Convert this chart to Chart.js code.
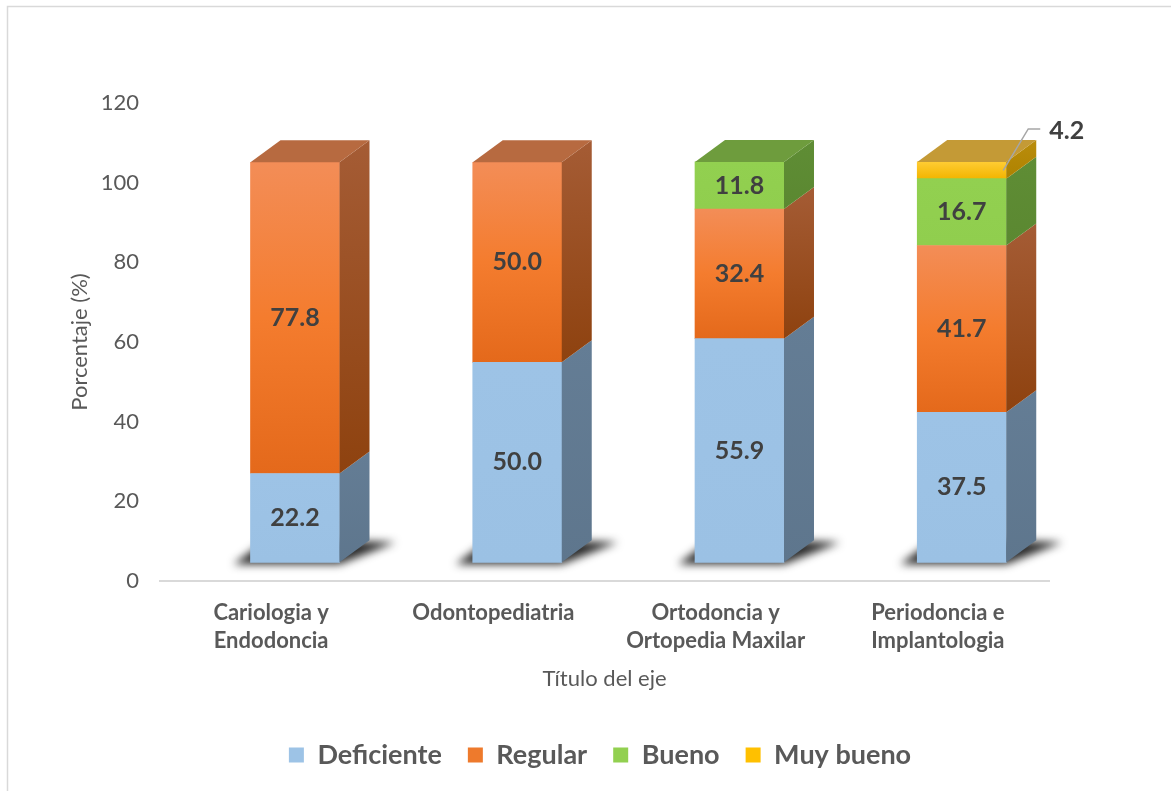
<!DOCTYPE html>
<html>
<head>
<meta charset="utf-8">
<script src="https://cdn.jsdelivr.net/npm/chart.js@4.4.0/dist/chart.umd.min.js"></script>
<style>
html,body{margin:0;padding:0;background:#fff;}
#wrap{width:1171px;height:791px;position:relative;}
</style>
</head>
<body>
<div id="wrap"><canvas id="c" width="1171" height="791"></canvas></div>
<script>
// ---- data ----
const categories = [['Cariologia y','Endodoncia'], 'Odontopediatria', ['Ortodoncia y','Ortopedia Maxilar'], ['Periodoncia e','Implantologia']];
const seriesNames = ['Deficiente', 'Regular', 'Bueno', 'Muy bueno'];
const deficiente = [22.2, 50.0, 55.9, 37.5];
const regular    = [77.8, 50.0, 32.4, 41.7];
const bueno      = [0, 0, 11.8, 16.7];
const muyBueno   = [0, 0, 0, 4.2];
const yTicks = [0, 20, 40, 60, 80, 100, 120];
const xTitle = 'Título del eje';
const yTitle = 'Porcentaje (%)';

const seriesData = [deficiente, regular, bueno, muyBueno];

// ---- styles ----
const FONT = "Lato, 'Open Sans', sans-serif";
const styles = [
  {front:['#9DC3E6','#9BC1E4'], side:['#647D95','#5E768D'], top:'#7F9DB8', legend:'#9DC3E6'},
  {front:['#F38D57','#F47C2E','#E4691B'], side:['#A55C35','#8E420F'], top:'#B76A40', legend:'#EE7A2C'},
  {front:['#92D050','#90CE4E'], side:['#5F8D35','#5B8831'], top:'#6E9C3D', legend:'#92D050'},
  {front:['#FFCC33','#F3B500'], side:['#BA8D0C','#AE8200'], top:'#C49A36', legend:'#FFC000'}
];
const DX = 30, DY = -22;

function grad(ctx, y0, y1, stops){
  if (stops.length === 1 || Math.abs(y1 - y0) < 1) return stops[0];
  const g = ctx.createLinearGradient(0, y0, 0, y1);
  stops.forEach((c, k) => g.addColorStop(k / (stops.length - 1), c));
  return g;
}

function segPixels(chart, d, i){
  const yb = chart.scales.yb;
  let start = 0;
  for (let k = 0; k < d; k++) start += seriesData[k][i];
  const end = start + seriesData[d][i];
  return [yb.getPixelForValue(end), yb.getPixelForValue(start)];
}

const bgPlugin = {
  id: 'bg',
  beforeDraw(chart){
    const ctx = chart.ctx;
    ctx.save();
    ctx.fillStyle = '#fff';
    ctx.fillRect(0, 0, chart.width, chart.height);
    ctx.strokeStyle = '#D9D9D9';
    ctx.lineWidth = 1.5;
    ctx.strokeRect(7.5, 6.5, chart.width + 20, chart.height + 20);
    ctx.restore();
  }
};

const shadowPlugin = {
  id: 'shadow3d',
  beforeDatasetsDraw(chart){
    const ctx = chart.ctx;
    const meta = chart.getDatasetMeta(0);
    ctx.save();
    ctx.filter = 'blur(4px)';
    ctx.fillStyle = 'rgba(20,20,20,0.9)';
    meta.data.forEach(el => {
      const {x, base, width} = el.getProps(['x','base','width'], true);
      const L = x - width/2, R = x + width/2;
      ctx.beginPath();
      ctx.moveTo(L - 17, base + 2);
      ctx.lineTo(R, base + 2);
      ctx.lineTo(R + DX + 26, base + DY + 2);
      ctx.lineTo(L + DX - 12, base + DY - 2);
      ctx.closePath();
      ctx.fill();
    });
    ctx.restore();
  }
};

const box3dPlugin = {
  id: 'box3d',
  afterDatasetsDraw(chart){
    const ctx = chart.ctx;
    ctx.save();
    for (let i = 0; i < categories.length; i++){
      let topEl = null, topD = -1;
      for (let d = 0; d < seriesData.length; d++){
        if (!(seriesData[d][i] > 0)) continue;
        const el = chart.getDatasetMeta(d).data[i];
        if (!el) continue;
        const {x, y, base, width} = el.getProps(['x','y','base','width'], true);
        const R = x + width/2;
        ctx.beginPath();
        ctx.moveTo(R, y);
        ctx.lineTo(R + DX, y + DY);
        ctx.lineTo(R + DX, base + DY);
        ctx.lineTo(R, base);
        ctx.closePath();
        ctx.fillStyle = grad(ctx, y + DY, base, styles[d].side);
        ctx.fill();
        topEl = {x, y, width}; topD = d;
      }
      if (topEl){
        const L = topEl.x - topEl.width/2, R = topEl.x + topEl.width/2, y = topEl.y;
        ctx.beginPath();
        ctx.moveTo(L, y);
        ctx.lineTo(L + DX, y + DY);
        ctx.lineTo(R + DX, y + DY);
        ctx.lineTo(R, y);
        ctx.closePath();
        ctx.fillStyle = styles[topD].top;
        ctx.fill();
      }
    }
    ctx.restore();
  }
};

const labelPlugin = {
  id: 'vlabels',
  afterDatasetsDraw(chart){
    const ctx = chart.ctx;
    ctx.save();
    ctx.font = 'bold 25px ' + FONT;
    ctx.fillStyle = '#404040';
    for (let d = 0; d < seriesData.length; d++){
      const meta = chart.getDatasetMeta(d);
      meta.data.forEach((el, i) => {
        const v = seriesData[d][i];
        if (!(v > 0)) return;
        const {x, y, base, width} = el.getProps(['x','y','base','width'], true);
        const txt = v.toFixed(1);
        if (base - y < 30){
          const R = x + width/2, cy = (y + base)/2;
          ctx.strokeStyle = '#A6A6A6';
          ctx.lineWidth = 1.5;
          ctx.beginPath();
          ctx.moveTo(R - 3, cy);
          ctx.lineTo(R + 22, y - 33);
          ctx.lineTo(R + 34, y - 33);
          ctx.stroke();
          ctx.textAlign = 'left';
          ctx.textBaseline = 'middle';
          ctx.fillText(txt, R + 43, y - 31);
        } else {
          ctx.textAlign = 'center';
          ctx.textBaseline = 'middle';
          ctx.fillText(txt, x, (y + base)/2);
        }
      });
    }
    ctx.restore();
  }
};

Chart.defaults.font.family = FONT;
Chart.defaults.color = '#595959';

const datasets = seriesNames.map((name, d) => ({
  label: name,
  data: seriesData[d].map((v, i) => ({x: i, y: v > 0 ? v : null})),
  xAxisID: 'xb',
  yAxisID: 'yb',
  barThickness: 89,
  borderWidth: 0,
  skipNull: true,
  backgroundColor: (c) => {
    const st = styles[d].front;
    if (c.type !== 'data' || !c.chart.chartArea) return st[0];
    const [y0, y1] = segPixels(c.chart, d, c.dataIndex);
    return grad(c.chart.ctx, y0, y1, st);
  }
}));

new Chart(document.getElementById('c'), {
  type: 'bar',
  data: { labels: categories, datasets },
  plugins: [bgPlugin, shadowPlugin, box3dPlugin, labelPlugin],
  options: {
    responsive: false,
    animation: false,
    devicePixelRatio: 1,
    layout: { padding: { top: 103, left: 67, right: 38, bottom: 12.5 } },
    plugins: {
      tooltip: { enabled: false },
      legend: {
        position: 'bottom',
        labels: {
          font: { size: 27, weight: 'bold', family: FONT },
          color: '#595959',
          boxWidth: 15,
          boxHeight: 15,
          padding: 26,
          generateLabels(chart){
            return seriesNames.map((n, d) => ({
              text: n, fillStyle: styles[d].legend, strokeStyle: 'rgba(0,0,0,0)',
              lineWidth: 0, datasetIndex: d, hidden: false, fontColor: '#595959'
            }));
          }
        }
      }
    },
    scales: {
      x: {
        type: 'category',
        position: 'bottom',
        offset: true,
        grid: { display: false, drawTicks: false },
        border: { display: true, color: '#D9D9D9', width: 2 },
        ticks: { font: { size: 22, weight: 'bold', family: FONT, lineHeight: 1.27 }, color: '#595959', padding: 18, maxRotation: 0, autoSkip: false },
        title: { display: true, text: xTitle, font: { size: 22, family: FONT }, color: '#595959', padding: { top: 0, bottom: 23.3 } },
        afterFit(s){ s.height = 134.5; }
      },
      xb: {
        type: 'linear',
        display: false,
        offset: false,
        stacked: true,
        min: -0.6074,
        max: 3.3926
      },
      y: {
        type: 'linear',
        position: 'left',
        min: 0, max: 120,
        grid: { display: false, drawTicks: false },
        border: { display: false },
        afterBuildTicks(s){ s.ticks = yTicks.map(v => ({value: v})); },
        ticks: { font: { size: 22, family: FONT }, color: '#595959', padding: 21 },
        title: { display: true, text: yTitle, font: { size: 22, family: FONT }, color: '#595959', padding: { top: 0, bottom: 0 } },
        afterFit(s){ s.width = 93; }
      },
      yb: {
        type: 'linear',
        position: 'right',
        stacked: true,
        min: -4.675,
        max: 114.825,
        grid: { display: false, drawTicks: false },
        border: { display: false },
        ticks: { display: false },
        afterFit(s){ s.width = 84; }
      }
    }
  }
});
</script>
</body>
</html>
